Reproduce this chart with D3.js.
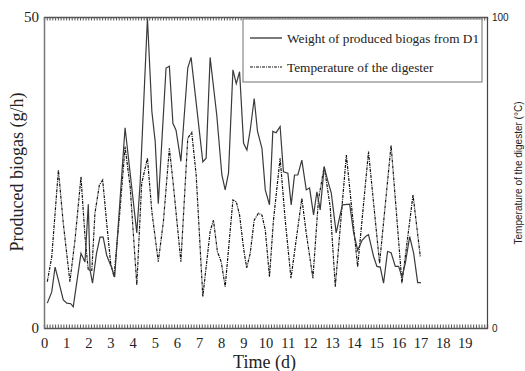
<!DOCTYPE html>
<html>
<head>
<meta charset="utf-8">
<script src="https://cdn.jsdelivr.net/npm/d3@7"></script>
<style>
  body { margin: 0; background: #fff; }
  svg { display: block; }
</style>
</head>
<body>
<script>
const WIDTH = 525;
const HEIGHT = 371;

// weight of produced biogas from D1, g/h (left axis)
const biogasDays = [0.15, 0.35, 0.5, 0.65, 0.87, 1.03, 1.21, 1.32, 1.67, 1.85, 2.0, 2.08, 2.19, 2.37, 2.53, 2.67, 2.83, 3.03, 3.19, 3.66,
  4.19, 4.34, 4.67, 4.87, 5.02, 5.16, 5.51, 5.66, 5.82, 5.96, 6.18, 6.49, 6.64, 7.17, 7.32, 7.5, 7.8, 8.03, 8.18, 8.33,
  8.53, 8.68, 8.83, 9.01, 9.16, 9.31, 9.49, 9.64, 9.84, 9.99, 10.18, 10.33, 10.48, 10.66, 10.81, 11.01, 11.16, 11.31, 11.46, 11.64,
  11.84, 11.99, 12.17, 12.32, 12.47, 12.65, 12.8, 12.97, 13.19, 13.47, 13.8, 13.98, 14.16, 14.36, 14.55, 14.65, 14.88, 15.03, 15.18, 15.33,
  15.51, 15.67, 15.86, 16.01, 16.16, 16.31, 16.51, 16.69, 16.87, 17.02];
const biogasValues = [4.0, 5.8, 9.8, 7.7, 4.5, 4.0, 3.9, 3.4, 12.0, 10.6, 19.9, 9.3, 7.2, 12.0, 14.6, 14.6, 11.7, 9.9, 8.2, 32.2,
  15.3, 23.3, 49.8, 34.8, 30.0, 20.0, 41.8, 42.1, 32.9, 31.8, 26.8, 41.8, 43.5, 26.7, 27.3, 43.5, 34.2, 24.6, 22.2, 24.9,
  41.5, 39.3, 41.2, 29.7, 28.6, 31.8, 36.9, 31.6, 28.9, 22.2, 19.8, 31.6, 31.4, 32.4, 25.1, 24.9, 19.8, 24.6, 24.6, 27.0,
  22.2, 22.5, 18.2, 21.9, 19.0, 25.9, 23.8, 21.7, 15.3, 19.8, 19.9, 15.3, 12.5, 14.1, 14.8, 15.0, 11.5, 9.9, 9.8, 7.2,
  12.3, 12.1, 9.9, 9.9, 8.2, 10.4, 14.7, 12.0, 7.3, 7.3];

// temperature of the digester, °C (right axis)
const tempDays = [0.15, 0.35, 0.65, 0.87, 1.17, 1.4, 1.67, 1.85, 2.0, 2.16, 2.3, 2.5, 2.65, 2.83, 3.01, 3.16, 3.43, 3.66, 3.89, 4.19,
  4.41, 4.67, 4.87, 5.16, 5.39, 5.66, 5.84, 6.18, 6.49, 6.67, 6.87, 7.17, 7.5, 7.65, 7.83, 8.0, 8.18, 8.53, 8.68, 8.83,
  9.01, 9.15, 9.31, 9.49, 9.68, 9.84, 9.99, 10.18, 10.36, 10.66, 10.89, 11.15, 11.64, 11.84, 12.14, 12.39, 12.65, 12.92, 13.15, 13.65,
  14.16, 14.65, 15.15, 15.67, 16.16, 16.66, 16.99];
const tempValues = [14.9, 22.9, 50.8, 33.7, 14.9, 28.3, 48.6, 29.4, 18.6, 18.6, 36.9, 46.0, 47.6, 33.7, 20.8, 16.5, 37.9, 58.3, 45.4, 13.8,
  46.5, 54.6, 37.4, 21.3, 34.2, 57.8, 46.0, 21.3, 61.0, 62.9, 49.2, 10.1, 31.0, 34.7, 24.5, 21.3, 13.3, 41.2, 40.6, 36.3,
  25.6, 19.3, 24.0, 34.7, 36.9, 36.3, 31.5, 16.5, 34.7, 54.6, 34.7, 16.0, 41.7, 30.5, 16.0, 41.2, 51.9, 39.0, 13.3, 55.6,
  19.7, 56.7, 20.8, 58.8, 14.4, 42.8, 22.9];

const dayTicks = d3.range(0, 20);
const leftTicks = [0, 50];
const rightTicks = [0, 100];
const legendLabels = ["Weight of produced biogas from D1", "Temperature of the digester"];

const margin = { left: 44, right: 38, top: 17, bottom: 43 };

const x = d3.scaleLinear().domain([0, 20]).range([margin.left, WIDTH - margin.right]);
const yLeft = d3.scaleLinear().domain([0, 50]).range([HEIGHT - margin.bottom, margin.top]);
const yRight = d3.scaleLinear().domain([0, 100]).range([HEIGHT - margin.bottom, margin.top]);

const svg = d3.select("body").append("svg")
    .attr("width", WIDTH)
    .attr("height", HEIGHT);

const serif = "'Liberation Serif', 'Times New Roman', serif";
const sans = "'Liberation Sans', Arial, sans-serif";

const biogas = biogasDays.map((d, i) => ({ day: d, value: biogasValues[i] }));
const temp = tempDays.map((d, i) => ({ day: d, value: tempValues[i] }));

// data lines
svg.append("path")
    .datum(temp)
    .attr("fill", "none")
    .attr("stroke", "#111")
    .attr("stroke-width", 1.2)
    .attr("stroke-dasharray", "3,1,1,1")
    .attr("d", d3.line().x(d => x(d.day)).y(d => yRight(d.value)));

svg.append("path")
    .datum(biogas)
    .attr("fill", "none")
    .attr("stroke", "#3a3a3a")
    .attr("stroke-width", 1.2)
    .attr("d", d3.line().x(d => x(d.day)).y(d => yLeft(d.value)));

// frame with inward minor ticks on top and bottom
const minor = d3.range(0, 20.001, 0.125);
const bottomY = yLeft(0);
const topY = yLeft(50);

svg.append("g")
    .attr("transform", `translate(0,${bottomY})`)
    .call(d3.axisBottom(x).tickValues(minor).tickSize(-3.5).tickFormat(""))
    .call(g => g.selectAll("line").attr("stroke", "#555"))
    .call(g => g.select(".domain").attr("stroke", "#555").attr("stroke-width", 1.3));

svg.append("g")
    .attr("transform", `translate(0,${topY})`)
    .call(d3.axisTop(x).tickValues(minor).tickSize(-3.5).tickFormat(""))
    .call(g => g.selectAll("line").attr("stroke", "#555"))
    .call(g => g.select(".domain").attr("stroke", "#555").attr("stroke-width", 1.3));

svg.append("g")
    .attr("transform", `translate(0,${bottomY})`)
    .call(d3.axisBottom(x).tickValues(dayTicks).tickSize(0).tickPadding(9.5).tickFormat(d3.format("d")))
    .call(g => g.select(".domain").remove())
    .call(g => g.selectAll("text").attr("font-family", serif).attr("font-size", 14.5).attr("fill", "#222"));

svg.append("g")
    .attr("transform", `translate(${margin.left},0)`)
    .call(d3.axisLeft(yLeft).tickValues(leftTicks).tickSize(0).tickPadding(5))
    .call(g => g.select(".domain").attr("stroke", "#777").attr("stroke-width", 1.5))
    .call(g => g.selectAll("text").attr("font-family", serif).attr("font-size", 15).attr("fill", "#222"));

svg.append("g")
    .attr("transform", `translate(${WIDTH - margin.right},0)`)
    .call(d3.axisRight(yRight).tickValues(rightTicks).tickSize(0).tickPadding(5))
    .call(g => g.select(".domain").attr("stroke", "#444").attr("stroke-width", 1.2))
    .call(g => g.selectAll("text").attr("font-family", sans).attr("font-size", 10).attr("fill", "#222"));

// axis titles
svg.append("text")
    .attr("transform", "translate(23,172) rotate(-90)")
    .attr("text-anchor", "middle")
    .style("font-family", serif)
    .style("font-size", "18px")
    .style("fill", "#222")
    .text("Produced biogas (g/h)");

svg.append("text")
    .attr("transform", "translate(522,173) rotate(-90)")
    .attr("text-anchor", "middle")
    .style("font-family", sans)
    .style("font-size", "10px")
    .style("fill", "#222")
    .text("Temperature of the digester (°C)");

svg.append("text")
    .attr("x", (x.range()[0] + x.range()[1]) / 2 - 1)
    .attr("y", 367.5)
    .attr("text-anchor", "middle")
    .style("font-family", serif)
    .style("font-size", "18px")
    .style("fill", "#222")
    .text("Time (d)");

// legend
const legend = svg.append("g").attr("transform", "translate(243,19)");

legend.append("rect")
    .attr("width", 239)
    .attr("height", 63)
    .attr("fill", "#fff")
    .attr("stroke", "#888")
    .attr("stroke-width", 1.2);

const items = legend.selectAll(".item")
    .data(legendLabels).enter()
    .append("g")
    .attr("transform", (d, i) => `translate(0,${19 + i * 29})`);

items.append("line")
    .attr("x1", 7)
    .attr("x2", 39)
    .attr("stroke", (d, i) => i === 0 ? "#222" : "#111")
    .attr("stroke-width", 1.2)
    .attr("stroke-dasharray", (d, i) => i === 0 ? null : "3,1,1,1");

items.append("text")
    .attr("x", 44)
    .attr("y", 4.5)
    .style("font-family", serif)
    .style("font-size", "13.3px")
    .style("fill", "#222")
    .text(d => d);
</script>
</body>
</html>
